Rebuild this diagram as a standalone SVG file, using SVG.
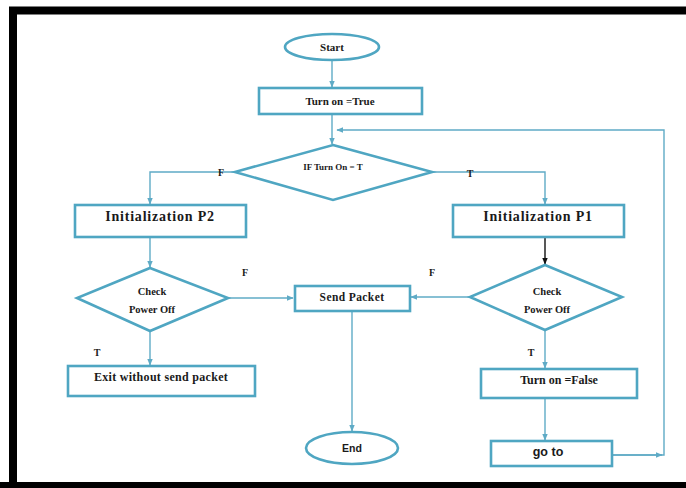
<svg xmlns="http://www.w3.org/2000/svg" width="686" height="488" viewBox="0 0 686 488">
<defs>
<style>
.frame{fill:none;stroke:#000;}
.shape{fill:#fff;stroke:#4fa6c2;stroke-width:2.6;}
.con{fill:none;stroke:#5fabc6;stroke-width:1.4;}
.conb{fill:none;stroke:#111;stroke-width:1.4;}
.t{font-family:"Liberation Serif","Times New Roman",serif;font-weight:bold;fill:#1a1a1a;text-anchor:middle;dominant-baseline:central;}
.s{font-family:"Liberation Sans",Arial,sans-serif;font-weight:bold;fill:#1a1a1a;text-anchor:middle;dominant-baseline:central;}
</style>
<marker id="a" viewBox="0 0 10 10" refX="9" refY="5" markerWidth="7" markerHeight="7" orient="auto" markerUnits="userSpaceOnUse"><path d="M0,1 L10,5 L0,9 z" fill="#5fabc6"/></marker>
<marker id="ab" viewBox="0 0 10 10" refX="9" refY="5" markerWidth="7" markerHeight="7" orient="auto" markerUnits="userSpaceOnUse"><path d="M0,1 L10,5 L0,9 z" fill="#111"/></marker>
</defs>
<rect width="686" height="488" fill="#fff"/>
<path d="M13,500 L13,10.5 L700,10.5" fill="none" stroke="#000" stroke-width="8"/>
<rect x="0" y="482" width="686" height="6" fill="#000"/>

<g id="connectors">
<path class="con" d="M332,60 L332,87" marker-end="url(#a)"/>
<path class="con" d="M332,114 L332,144" marker-end="url(#a)"/>
<path class="con" d="M613,455 L664,455 L664,130 L337,130" marker-end="url(#a)"/>
<path class="con" d="M235,172 L150,172 L150,204" marker-end="url(#a)"/>
<path class="con" d="M432,172 L545,172 L545,204" marker-end="url(#a)"/>
<path class="con" d="M150,237 L150,267" marker-end="url(#a)"/>
<path class="conb" d="M545,237 L545,264" marker-end="url(#ab)"/>
<path class="con" d="M228,298 L293,298" marker-end="url(#a)"/>
<path class="con" d="M470,297 L411,297" marker-end="url(#a)"/>
<path class="con" d="M150,331 L150,365" marker-end="url(#a)"/>
<path class="con" d="M545,330 L545,368" marker-end="url(#a)"/>
<path class="con" d="M545,398 L545,440" marker-end="url(#a)"/>
<path class="con" d="M352,311 L352,431" marker-end="url(#a)"/>
<path class="con" d="M612,455 L662,455" marker-end="url(#a)"/>
<text class="t" x="221" y="172" font-size="10">F</text>
<text class="t" x="470" y="173" font-size="10">T</text>
<text class="t" x="245" y="272" font-size="10">F</text>
<text class="t" x="432" y="272" font-size="10">F</text>
<text class="t" x="97" y="352" font-size="10">T</text>
<text class="t" x="531" y="352" font-size="10">T</text>
</g>

<g id="start">
<ellipse class="shape" cx="332" cy="47" rx="47" ry="13"/>
<text class="t" x="332" y="47" font-size="11">Start</text>
</g>
<g id="turn-on-true">
<rect class="shape" x="259" y="88" width="163" height="26"/>
<text class="t" x="340" y="101" font-size="11">Turn on =True</text>
</g>
<g id="if-turn-on">
<polygon class="shape" points="333,145 432,172 333,200 235,172"/>
<text class="t" x="333" y="167" font-size="9">IF Turn On = T</text>
</g>
<g id="init-p2">
<rect class="shape" x="75" y="205" width="171" height="32"/>
<text class="t" x="160" y="216" font-size="14" letter-spacing="0.8">Initialization  P2</text>
</g>
<g id="init-p1">
<rect class="shape" x="453" y="205" width="171" height="32"/>
<text class="t" x="538" y="216" font-size="14" letter-spacing="0.8">Initialization  P1</text>
</g>
<g id="check-left">
<polygon class="shape" points="150,268 228,298 150,331 77,298"/>
<text class="t" x="152" y="291" font-size="10.5">Check</text>
<text class="t" x="152" y="309" font-size="10.5">Power Off</text>
</g>
<g id="check-right">
<polygon class="shape" points="545,265 622,297 545,330 470,297"/>
<text class="t" x="547" y="291" font-size="10.5">Check</text>
<text class="t" x="547" y="309" font-size="10.5">Power Off</text>
</g>
<g id="send-packet">
<rect class="shape" x="295" y="286" width="115" height="25"/>
<text class="t" x="352" y="297" font-size="11.5" letter-spacing="0.4">Send Packet</text>
</g>
<g id="exit">
<rect class="shape" x="68" y="366" width="187" height="30"/>
<text class="t" x="161" y="377" font-size="12" letter-spacing="0.3">Exit without send packet</text>
</g>
<g id="turn-on-false">
<rect class="shape" x="481" y="369" width="156" height="29"/>
<text class="t" x="559" y="380" font-size="12">Turn on =False</text>
</g>
<g id="goto">
<rect class="shape" x="491" y="441" width="121" height="25"/>
<text class="s" x="548" y="452" font-size="12.5">go to</text>
</g>
<g id="end">
<ellipse class="shape" cx="352" cy="448" rx="46" ry="16"/>
<text class="s" x="352" y="448" font-size="10.5">End</text>
</g>
</svg>
